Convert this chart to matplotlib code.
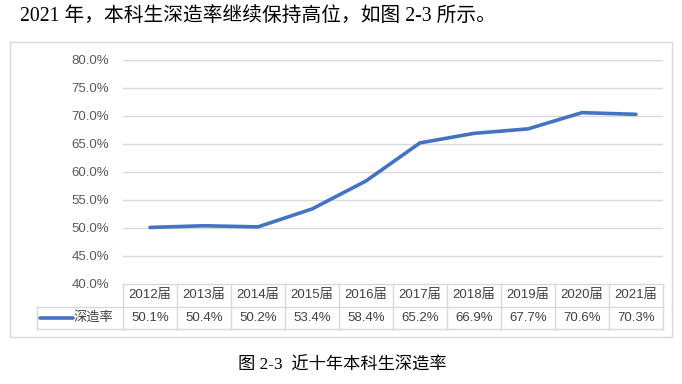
import matplotlib.pyplot as plt
from matplotlib.patches import Rectangle

plt.rcParams['font.family'] = ['Liberation Sans', 'Noto Sans CJK SC']

# --- données ---
years = ["2012届", "2013届", "2014届", "2015届", "2016届",
         "2017届", "2018届", "2019届", "2020届", "2021届"]
rates = [50.1, 50.4, 50.2, 53.4, 58.4, 65.2, 66.9, 67.7, 70.6, 70.3]
series_name = "深造率"
y_ticks = [40, 45, 50, 55, 60, 65, 70, 75, 80]

W, H = 682, 384
BLUE = "#4472C4"
GRID = "#D9D9D9"
TXT = "#404040"


def fx(px):
    return px / W


def fy(py):
    return 1 - py / H


fig = plt.figure(figsize=(6.82, 3.84), dpi=100)

# cadre du graphique
fig.patches.append(Rectangle((fx(10), fy(337)), fx(662), 295 / H,
                             transform=fig.transFigure, fill=False,
                             edgecolor=GRID, linewidth=1))

# zone de tracé
x0, x1 = 123, 663
ax = fig.add_axes([fx(x0), fy(284), fx(x1 - x0), 224 / H])
xs = list(range(len(years)))
ax.plot(xs, rates, color=BLUE, linewidth=2.6, solid_capstyle="round", clip_on=False)
ax.set_xlim(-0.5, len(years) - 0.5)
ax.set_ylim(40, 80)
ax.set_yticks(y_ticks)
ax.set_yticklabels([f"{v:.1f}%" for v in y_ticks], color="#595959", fontsize=9.5)
ax.tick_params(axis="y", length=0, pad=10)
ax.set_xticks([])
for v in y_ticks[1:]:
    ax.axhline(v, color=GRID, linewidth=1, zorder=0)
for s in ax.spines.values():
    s.set_visible(False)

# tableau de données sous l'axe
col_w = (x1 - x0) / len(years)
first_w = (x0 - 37) / col_w
tab = fig.add_axes([fx(37), fy(329), fx(x1 - 37), 45 / H])
tab.set_xlim(-0.5 - first_w, len(years) - 0.5)
tab.set_ylim(0, 2)
tab.axis("off")
lw = 1
tab.plot([-0.5, len(years) - 0.5], [2, 2], color=GRID, lw=lw, clip_on=False)
tab.plot([-0.5 - first_w, len(years) - 0.5], [1, 1], color=GRID, lw=lw, clip_on=False)
tab.plot([-0.5 - first_w, len(years) - 0.5], [0, 0], color=GRID, lw=lw, clip_on=False)
tab.plot([-0.5 - first_w] * 2, [0, 1], color=GRID, lw=lw, clip_on=False)
for i in range(len(years) + 1):
    tab.plot([i - 0.5] * 2, [0, 2], color=GRID, lw=lw, clip_on=False)
for i, (yr, r) in enumerate(zip(years, rates)):
    tab.text(i, 1.5, yr, ha="center", va="center", fontsize=9.5, color=TXT)
    tab.text(i, 0.5, f"{r:.1f}%", ha="center", va="center", fontsize=9.5, color=TXT)
tab.plot([-0.5 - first_w + 0.06, -0.5 - first_w + 0.66], [0.5, 0.5],
         color=BLUE, lw=2.6, solid_capstyle="round", clip_on=False)
tab.text(-0.5 - first_w + 0.68, 0.5, series_name, ha="left", va="center",
         fontsize=9.5, color=TXT)

# textes hors graphique
fig.text(fx(20), fy(17), "2021 年，本科生深造率继续保持高位，如图 2-3 所示。",
         family=["Liberation Serif", "Noto Sans CJK SC"], fontsize=14.2,
         ha="left", va="center", color="black")
fig.text(fx(342), fy(366), "图 2-3  近十年本科生深造率",
         family=["Liberation Serif", "Noto Sans CJK SC"], fontsize=12.4,
         ha="center", va="center", color="black")

fig.savefig("out.png", dpi=100)
